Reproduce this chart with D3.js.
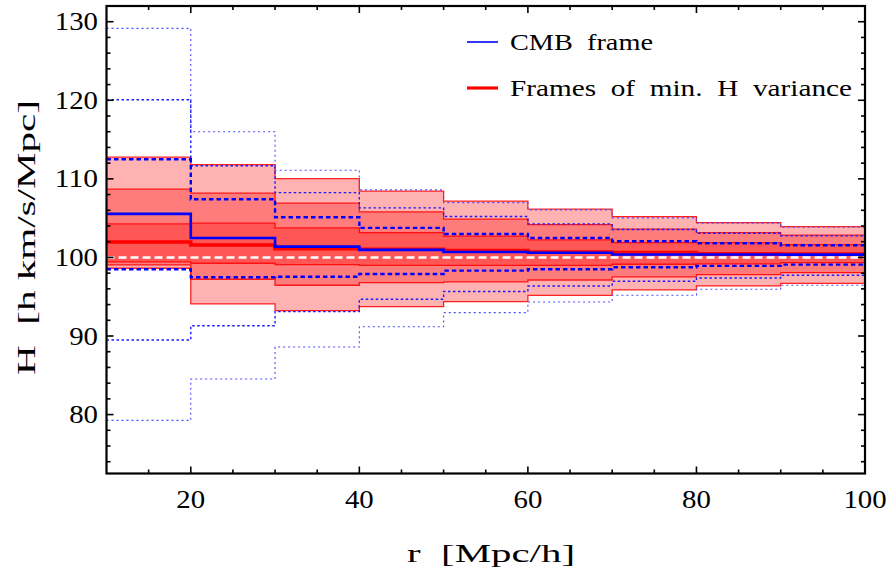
<!DOCTYPE html>
<html>
<head>
<meta charset="utf-8">
<script src="https://cdn.jsdelivr.net/npm/d3@7"></script>
<style>
  body { margin: 0; background: #fff; }
  text { font-family: "Liberation Serif", "Times New Roman", serif; fill: #000; white-space: pre; }
</style>
</head>
<body>
<svg id="chart" width="893" height="571"></svg>
<script>
// Radial bins (Mpc/h): each bin runs from its start to the next start, the last one ends at rMax
const binStarts = [10, 20, 30, 40, 50, 60, 70, 80, 90];
const rMax = 100;

// Frames of minimum H variance: median and three nested confidence bands
const redMedian  = [101.97, 101.59, 101.12, 101.04, 100.87, 100.70, 100.61, 100.45, 100.42];
const redDarkHi  = [104.27, 104.36, 103.76, 103.16, 102.70, 102.23, 101.89, 101.89, 101.63];
const redDarkLo  = [ 99.43,  99.26,  99.08,  99.00,  99.00,  99.00,  99.13,  99.17,  99.34];
const redMidHi   = [108.69, 108.18, 106.90, 105.80, 104.87, 104.18, 103.59, 103.16, 102.83];
const redMidLo   = [ 99.05,  97.22,  96.46,  96.79,  96.88,  97.13,  97.52,  97.81,  98.06];
const redLightHi = [112.76, 111.82, 110.04, 108.43, 107.16, 106.14, 105.20, 104.43, 103.92];
const redLightLo = [ 98.62,  94.08,  93.22,  93.73,  94.37,  95.18,  95.86,  96.37,  96.71];

// CMB frame: median and 1/2/3 sigma limits
const cmbMedian = [105.54, 102.48, 101.38, 100.96, 100.70, 100.60, 100.38, 100.38, 100.36];
const cmb1Hi    = [112.50, 107.41, 105.12, 103.76, 102.99, 102.48, 102.06, 101.81, 101.55];
const cmb1Lo    = [ 98.50,  97.48,  97.55,  97.90,  98.32,  98.50,  98.75,  98.92,  99.08];
const cmb2Hi    = [120.06, 111.66, 108.25, 106.31, 105.20, 104.27, 103.55, 103.08, 102.74];
const cmb2Lo    = [ 89.49,  91.31,  93.10,  94.68,  95.67,  96.37,  96.97,  97.39,  97.73];
const cmb3Hi    = [129.15, 115.99, 111.10, 108.60, 106.98, 106.05, 105.03, 104.36, 103.85];
const cmb3Lo    = [ 79.26,  84.52,  88.60,  91.18,  92.97,  94.33,  95.18,  95.95,  96.46];

const referenceH = 100;

// Axis ticks
const xMajorTicks = [20, 40, 60, 80, 100];
const xMinorTicks = [15, 25, 30, 35, 45, 50, 55, 65, 70, 75, 85, 90, 95];
const yMajorTicks = [80, 90, 100, 110, 120, 130];
const yMinorTicks = [74, 76, 78, 82, 84, 86, 88, 92, 94, 96, 98, 102, 104, 106, 108, 112, 114, 116, 118, 122, 124, 126, 128];

const legendLabels = ["CMB  frame", "Frames  of  min.  H  variance"];
const xTitle = "r  [Mpc/h]";
const yTitle = "H  [h km/s/Mpc]";

const svg = d3.select("#chart");
const x = d3.scaleLinear().domain([10, 100]).range([106.5, 865]);
const y = d3.scaleLinear().domain([72.5, 132]).range([473.5, 6]);

// Step series: one point per bin start plus a closing point at rMax
const steps = vals => binStarts.map((s, i) => [s, vals[i]]).concat([[rMax, vals[vals.length - 1]]]);
const stepLine = d3.line().x(d => x(d[0])).y(d => y(d[1])).curve(d3.curveStepAfter);
const stepArea = (lo, hi) => {
  const pts = binStarts.map((s, i) => [s, lo[i], hi[i]]).concat([[rMax, lo[lo.length - 1], hi[hi.length - 1]]]);
  return d3.area().x(d => x(d[0])).y0(d => y(d[1])).y1(d => y(d[2])).curve(d3.curveStepAfter)(pts);
};

svg.append("defs").append("clipPath").attr("id", "plotClip")
  .append("rect").attr("x", x(10)).attr("y", y(132)).attr("width", x(100) - x(10)).attr("height", y(72.5) - y(132));

const plot = svg.append("g").attr("clip-path", "url(#plotClip)");

// Red confidence bands, stacked translucent fills
const bands = [[redLightLo, redLightHi], [redMidLo, redMidHi], [redDarkLo, redDarkHi]];
bands.forEach(([lo, hi]) => {
  plot.append("path").attr("d", stepArea(lo, hi)).attr("fill", "#ff0000").attr("fill-opacity", 0.3);
});
bands.forEach(([lo, hi]) => {
  [lo, hi].forEach(v => {
    plot.append("path").attr("d", stepLine(steps(v))).attr("fill", "none")
      .attr("stroke", "#ff0000").attr("stroke-opacity", 0.85).attr("stroke-width", 1.3);
  });
});

// Reference value H = 100
plot.append("line")
  .attr("x1", x(10)).attr("x2", x(100)).attr("y1", y(referenceH)).attr("y2", y(referenceH))
  .attr("stroke", "#ffffff").attr("stroke-width", 2.6).attr("stroke-dasharray", "8,4");

// Red median
plot.append("path").attr("d", stepLine(steps(redMedian))).attr("fill", "none")
  .attr("stroke", "#ff0000").attr("stroke-width", 3.6);

// CMB frame limits
const cmbStyles = [
  { vals: [cmb3Lo, cmb3Hi], color: "#4d4dff", width: 1.1, dash: "2,3" },
  { vals: [cmb2Lo, cmb2Hi], color: "#1a1aff", width: 1.4, dash: "2.5,2.5" },
  { vals: [cmb1Lo, cmb1Hi], color: "#0000ff", width: 2.4, dash: "4.5,3" }
];
cmbStyles.forEach(st => {
  st.vals.forEach(v => {
    plot.append("path").attr("d", stepLine(steps(v))).attr("fill", "none")
      .attr("stroke", st.color).attr("stroke-width", st.width).attr("stroke-dasharray", st.dash);
  });
});
plot.append("path").attr("d", stepLine(steps(cmbMedian))).attr("fill", "none")
  .attr("stroke", "#0000ff").attr("stroke-width", 2.6);

// Frame with ticks on all four sides
const frame = svg.append("g");
const x0 = x.range()[0], x1 = x.range()[1], y0 = y.range()[1], y1 = y.range()[0];
const tick = (x1_, y1_, x2_, y2_) => frame.append("line")
  .attr("x1", x1_).attr("y1", y1_).attr("x2", x2_).attr("y2", y2_)
  .attr("stroke", "#000").attr("stroke-width", 1.6);
xMajorTicks.forEach(t => { tick(x(t), y1, x(t), y1 - 7); tick(x(t), y0, x(t), y0 + 7); });
xMinorTicks.forEach(t => { tick(x(t), y1, x(t), y1 - 4); tick(x(t), y0, x(t), y0 + 4); });
yMajorTicks.forEach(t => { tick(x0, y(t), x0 + 7, y(t)); tick(x1, y(t), x1 - 7, y(t)); });
yMinorTicks.forEach(t => { tick(x0, y(t), x0 + 4, y(t)); tick(x1, y(t), x1 - 4, y(t)); });
frame.append("rect").attr("x", x0).attr("y", y0).attr("width", x1 - x0).attr("height", y1 - y0)
  .attr("fill", "none").attr("stroke", "#000").attr("stroke-width", 2.2);

// Tick labels
const digitW = 14.4;
yMajorTicks.forEach(t => {
  const s = String(t);
  svg.append("text").attr("x", 98).attr("y", y(t) + 8.5).attr("text-anchor", "end")
    .attr("font-size", 25).attr("textLength", digitW * s.length).attr("lengthAdjust", "spacingAndGlyphs")
    .text(s);
});
xMajorTicks.forEach(t => {
  const s = String(t);
  svg.append("text").attr("x", x(t)).attr("y", 508).attr("text-anchor", "middle")
    .attr("font-size", 25).attr("textLength", digitW * s.length).attr("lengthAdjust", "spacingAndGlyphs")
    .text(s);
});

// Axis titles
svg.append("text").attr("x", 407).attr("y", 562).attr("font-size", 25)
  .attr("textLength", 168).attr("lengthAdjust", "spacingAndGlyphs").text(xTitle);
svg.append("text").attr("transform", "translate(35,375) rotate(-90)").attr("font-size", 25)
  .attr("textLength", 275).attr("lengthAdjust", "spacingAndGlyphs").text(yTitle);

// Legend
const legend = svg.append("g");
legend.append("line").attr("x1", 467).attr("x2", 498).attr("y1", 42).attr("y2", 42)
  .attr("stroke", "#0000ff").attr("stroke-width", 1.6);
legend.append("line").attr("x1", 467).attr("x2", 498).attr("y1", 88).attr("y2", 88)
  .attr("stroke", "#ff0000").attr("stroke-width", 3.2);
legend.append("text").attr("x", 510).attr("y", 49.5).attr("font-size", 23)
  .attr("textLength", 143).attr("lengthAdjust", "spacingAndGlyphs").text(legendLabels[0]);
legend.append("text").attr("x", 510).attr("y", 95.5).attr("font-size", 23)
  .attr("textLength", 342).attr("lengthAdjust", "spacingAndGlyphs").text(legendLabels[1]);
</script>
</body>
</html>
